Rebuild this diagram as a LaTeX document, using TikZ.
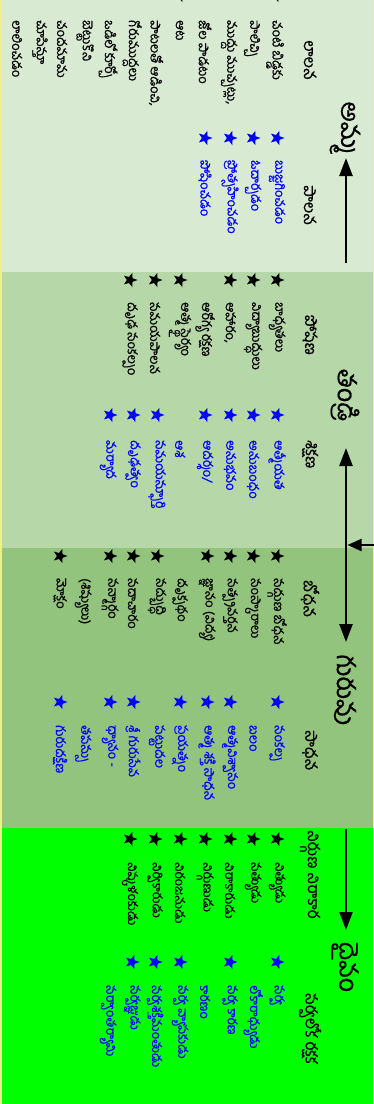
\documentclass[tikz,border=0pt]{standalone}
\usepackage{fontspec}
\usetikzlibrary{shapes.geometric,arrows.meta}
\newfontfamily\te[Script=Telugu,FakeBold=0.6]{Hind Guntur}
\definecolor{sone}{HTML}{D9EAD3}
\definecolor{stwo}{HTML}{B6D7A8}
\definecolor{sthree}{HTML}{93C47D}
\definecolor{sfour}{HTML}{00FF00}
\definecolor{tblue}{HTML}{0000FF}
\definecolor{edgey}{HTML}{EEF08A}
\tikzset{
  btxt/.style={rotate=-90, anchor=west, inner sep=0pt, text=black, font=\te\fontsize{13}{15}\selectfont},
  ltxt/.style={btxt, text=tblue},
  hdr/.style={rotate=-90, anchor=west, inner sep=0pt, text=black, font=\te\fontsize{16}{18}\selectfont},
  big/.style={rotate=-90, anchor=center, inner sep=0pt, text=black, font=\te\fontsize{25}{27}\selectfont},
  bstar/.style={star, star points=5, star point ratio=2.4, minimum size=15pt, inner sep=0pt, fill=black, draw=none, shape border rotate=-90},
  lstar/.style={bstar, fill=tblue},
  arr/.style={line width=2.5pt, -{Triangle[width=13pt,length=18pt]}},
  darr/.style={line width=2.5pt, {Triangle[width=13pt,length=18pt]}-{Triangle[width=13pt,length=18pt]}},
  harr/.style={line width=2pt, -{Triangle[width=12pt,length=14pt]}}
}
\begin{document}
\begin{tikzpicture}[x=1pt,y=1pt]
\path[use as bounding box, clip] (0,0) rectangle (374,-1104);
% sections
\fill[sone] (0,0) rectangle (374,-272);
\fill[stwo] (0,-272) rectangle (374,-548);
\fill[sthree] (0,-548) rectangle (374,-828);
\fill[sfour] (0,-828) rectangle (374,-1104);
\draw[edgey, line width=1.5pt] (0.75,0) -- (0.75,-1104);
\draw[edgey, line width=1.5pt] (373.25,0) -- (373.25,-1104);

% big labels
\node[big] (amma) at (345,-128) {అమ్మ};
\node[big] (tandri) at (345,-395) {తండ్రి};
\node[big] (guru) at (345,-690) {గురువు};
\node[big] (daivam) at (345,-967) {దైవం};

% arrows
\coordinate (a1s) at (346,-263);
\coordinate (a1e) at (346,-158);
\coordinate (a2s) at (346,-448);
\coordinate (a2e) at (346,-642);
\coordinate (hs) at (374,-545);
\coordinate (he) at (347.5,-545);
\coordinate (a4s) at (346,-829);
\coordinate (a4e) at (346,-930);
\draw[arr] (a1s) -- (a1e);
\draw[darr] (a2s) -- (a2e);
\draw[harr] (hs) -- (he);
\draw[arr] (a4s) -- (a4e);

% sub headers
\node[hdr] (h1a) at (310,-40) {లాలన};
\node[hdr] (h1b) at (310,-185) {పాలన};
\node[hdr] (h2a) at (310,-315) {పోషణ};
\node[hdr] (h2b) at (310,-440) {శిక్షణ};
\node[hdr] (h3a) at (310,-580) {బోధన};
\node[hdr] (h3b) at (310,-730) {సాధన};
\node[hdr] (h4a) at (310,-830) {నిర్గుణ నిరాకార};
\node[hdr] (h4b) at (310,-993) {సర్వలోక రక్షక};

% partial stars at top edge
\node[bstar] (ts1) at (180,5) {};
\node[bstar] (ts2) at (276,5) {};

% ---------- section 1 ----------
\node[btxt] (m1) at (275,-20) {చంటి బిడ్డకు};
\node[btxt] (m2) at (252,-20) {పాలిచ్చి};
\node[btxt] (m3) at (229,-20) {ముద్దు ముచ్చట్లు,};
\node[btxt] (m4) at (205,-20) {జోల పాడటం};
\node[btxt] (m5) at (180,-20) {ఆట};
\node[btxt] (m6) at (156,-20) {పాటలతో ఆడించి,};
\node[btxt] (m7) at (132,-20) {గోరుముద్దలు};
\node[btxt] (m8) at (108,-20) {ఒడిలో కూర్చో};
\node[btxt] (m9) at (85,-20) {బెట్టుకొని};
\node[btxt] (m10) at (62,-20) {చందమామ};
\node[btxt] (m11) at (40,-20) {చూపిస్తూ};
\node[btxt] (m12) at (17,-20) {లాలించడం};

\node[lstar] (ms1) at (277,-138) {};
\node[lstar] (ms2) at (253,-138) {};
\node[lstar] (ms3) at (230,-138) {};
\node[lstar] (ms4) at (205,-138) {};
\node[ltxt] (mb1) at (277,-160) {బుజ్జగించడం};
\node[ltxt] (mb2) at (253,-160) {ఓదార్చడం};
\node[ltxt] (mb3) at (230,-160) {ప్రోత్సహించడం};
\node[ltxt] (mb4) at (205,-160) {పోషించడం};

% ---------- section 2 ----------
\node[bstar] (ps1) at (277,-280) {};
\node[bstar] (ps2) at (253,-280) {};
\node[bstar] (ps3) at (230,-280) {};
\node[bstar] (ps4) at (180,-280) {};
\node[bstar] (ps5) at (155,-280) {};
\node[bstar] (ps6) at (130,-280) {};
\node[btxt] (p1) at (277,-302) {బాధ్యతలు};
\node[btxt] (p2) at (253,-302) {విద్యాబుద్ధులు};
\node[btxt] (p3) at (230,-302) {ఆహారం,};
\node[btxt] (p3b) at (205,-302) {ఆరోగ్య రక్షణ};
\node[btxt] (p4) at (180,-302) {ఆత్మ స్థైర్యం};
\node[btxt] (p5) at (155,-302) {సమయపాలన};
\node[btxt] (p6) at (130,-302) {దృఢ సంకల్పం};

\node[lstar] (pl1) at (277,-415) {};
\node[lstar] (pl2) at (253,-415) {};
\node[lstar] (pl3) at (230,-415) {};
\node[lstar] (pl4) at (205,-415) {};
\node[lstar] (pl5) at (157,-415) {};
\node[lstar] (pl6) at (133,-415) {};
\node[lstar] (pl7) at (110,-415) {};
\node[ltxt] (pb1) at (277,-440) {ఆత్మీయత};
\node[ltxt] (pb2) at (253,-440) {అనుబంధం};
\node[ltxt] (pb3) at (230,-440) {అనుభవం};
\node[ltxt] (pb4) at (205,-440) {ఆదర్శం/};
\node[ltxt] (pb4b) at (180,-440) {ఆశ};
\node[ltxt] (pb5) at (157,-440) {సమయస్ఫూర్తి};
\node[ltxt] (pb6) at (133,-440) {దృఢత్వం};
\node[ltxt] (pb7) at (108,-440) {మర్యాద};

% ---------- section 3 ----------
\node[bstar] (gs1) at (277,-556) {};
\node[bstar] (gs2) at (253,-556) {};
\node[bstar] (gs3) at (230,-556) {};
\node[bstar] (gs4) at (207,-556) {};
\node[bstar] (gs5) at (157,-556) {};
\node[bstar] (gs6) at (133,-556) {};
\node[bstar] (gs7) at (110,-556) {};
\node[bstar] (gs8) at (60,-556) {};
\node[btxt] (g1) at (277,-578) {సద్గుణ బోధన};
\node[btxt] (g2) at (253,-578) {సంస్కారాలు};
\node[btxt] (g3) at (230,-578) {సత్ప్రవర్తన};
\node[btxt] (g4) at (207,-578) {జ్ఞానం (విద్య)};
\node[btxt] (g4b) at (180,-578) {దృక్పథం};
\node[btxt] (g5) at (157,-578) {సద్బుద్ధి};
\node[btxt] (g6) at (133,-578) {సదాచారం};
\node[btxt] (g7) at (110,-578) {సన్మార్గం};
\node[btxt] (g7b) at (83,-578) {(శిష్యులు)};
\node[btxt] (g8) at (60,-578) {మోక్షం};

\node[lstar] (gl1) at (277,-702) {};
\node[lstar] (gl2) at (230,-702) {};
\node[lstar] (gl3) at (207,-702) {};
\node[lstar] (gl4) at (180,-702) {};
\node[lstar] (gl5) at (133,-702) {};
\node[lstar] (gl6) at (110,-702) {};
\node[lstar] (gl7) at (60,-702) {};
\node[ltxt] (gb1) at (277,-725) {సంకల్ప};
\node[ltxt] (gb1b) at (253,-725) {బలం};
\node[ltxt] (gb2) at (230,-725) {ఆత్మవిశ్వాసం};
\node[ltxt] (gb3) at (207,-725) {ఆత్మ శక్తి సాధన};
\node[ltxt] (gb4) at (180,-725) {ప్రయత్నం};
\node[ltxt] (gb4b) at (157,-725) {పట్టుదల};
\node[ltxt] (gb5) at (133,-725) {శ్రీ గురుసేవ};
\node[ltxt] (gb6) at (110,-725) {ధ్యానం -};
\node[ltxt] (gb6b) at (83,-725) {తపస్సు};
\node[ltxt] (gb7) at (60,-725) {గురుదక్షిణ};

% ---------- section 4 ----------
\node[bstar] (ds1) at (277,-839) {};
\node[bstar] (ds2) at (253,-839) {};
\node[bstar] (ds3) at (230,-839) {};
\node[bstar] (ds4) at (205,-839) {};
\node[bstar] (ds5) at (180,-839) {};
\node[bstar] (ds6) at (155,-839) {};
\node[bstar] (ds7) at (130,-839) {};
\node[btxt] (d1) at (277,-862) {నిత్యుడు};
\node[btxt] (d2) at (253,-862) {సత్యుడు};
\node[btxt] (d3) at (230,-862) {నిరాకారుడు};
\node[btxt] (d4) at (205,-862) {నిర్గుణుడు};
\node[btxt] (d5) at (180,-862) {నిరంజనుడు};
\node[btxt] (d6) at (155,-862) {నిర్వికారుడు};
\node[btxt] (d7) at (130,-862) {నిష్కళంకుడు};

\node[lstar] (dl1) at (277,-962) {};
\node[lstar] (dl2) at (230,-962) {};
\node[lstar] (dl3) at (180,-962) {};
\node[lstar] (dl4) at (155,-962) {};
\node[lstar] (dl5) at (132,-962) {};
\node[ltxt] (db1) at (277,-985) {సర్వ};
\node[ltxt] (db1b) at (253,-985) {లోకారాధ్యుడు};
\node[ltxt] (db2) at (230,-985) {సర్వ కారణ};
\node[ltxt] (db2b) at (205,-985) {కారణం};
\node[ltxt] (db3) at (180,-985) {సర్వ వ్యాపకుడు};
\node[ltxt] (db4) at (155,-985) {సర్వశక్తిమంతుడు};
\node[ltxt] (db5) at (132,-985) {సర్వజ్ఞుడు};
\node[ltxt] (db5b) at (108,-985) {సర్వాంతర్యామి};
\end{tikzpicture}
\end{document}
